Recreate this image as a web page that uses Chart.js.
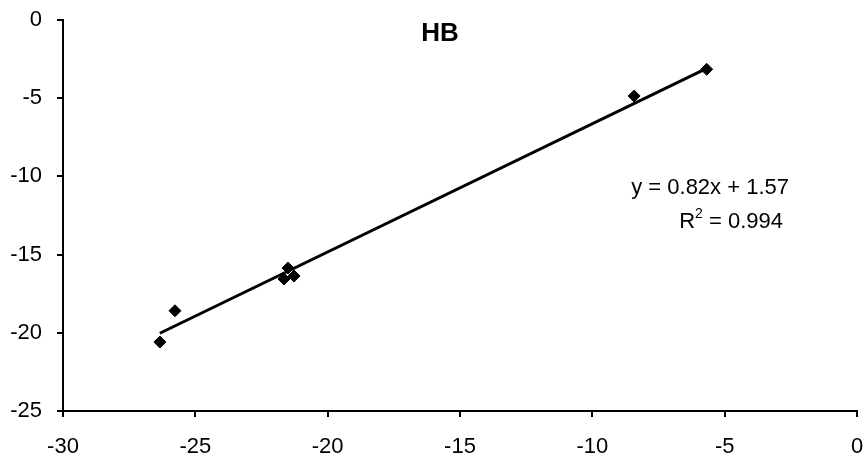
<!DOCTYPE html>
<html>
<head>
<meta charset="utf-8">
<script src="https://cdn.jsdelivr.net/npm/chart.js@4"></script>
<style>
  html, body { margin: 0; padding: 0; background: #fff; }
  #wrap { width: 867px; height: 464px; position: relative; }
</style>
</head>
<body>
<div id="wrap"><canvas id="c" width="867" height="464"></canvas></div>
<script>
// Measured samples
const xValues = [-26.34, -25.77, -21.65, -21.5, -21.27, -8.42, -5.68];
const yValues = [-20.59, -18.59, -16.56, -15.86, -16.37, -4.86, -3.15];

// Linear fit as reported on the chart
const slope = 0.82;
const intercept = 1.57;
const rSquared = 0.994;

const xTicks = [-30, -25, -20, -15, -10, -5, 0];
const yTicks = [-25, -20, -15, -10, -5, 0];

const titleText = 'HB';

const points = xValues.map((x, i) => ({ x: x, y: yValues[i] }));
const xMin = Math.min(...xValues);
const xMax = Math.max(...xValues);
const fitLine = [
  { x: xMin, y: slope * xMin + intercept },
  { x: xMax, y: slope * xMax + intercept }
];

const FONT = '"Liberation Sans", Arial, sans-serif';

const annotate = {
  id: 'annotate',
  afterDraw(chart) {
    const { ctx, chartArea } = chart;
    ctx.save();
    ctx.fillStyle = '#000';
    ctx.textBaseline = 'middle';
    ctx.textAlign = 'center';
    ctx.font = 'bold 26px ' + FONT;
    ctx.fillText(titleText, chartArea.left + 377, chartArea.top + 14);

    ctx.font = '22px ' + FONT;
    ctx.textAlign = 'right';
    const eq = 'y = ' + slope.toFixed(2) + 'x + ' + intercept.toFixed(2);
    ctx.fillText(eq, chartArea.left + 726, chartArea.top + 168);
    // R² line with superscript
    const r2 = ' = ' + rSquared.toFixed(3);
    const rx = chartArea.left + 720;
    const ry = chartArea.top + 202;
    ctx.fillText(r2, rx, ry);
    const w = ctx.measureText(r2).width;
    ctx.font = '14px ' + FONT;
    const sw = ctx.measureText('2').width;
    ctx.fillText('2', rx - w, ry - 8);
    ctx.font = '22px ' + FONT;
    ctx.fillText('R', rx - w - sw, ry);
    ctx.restore();
  }
};

new Chart(document.getElementById('c'), {
  type: 'scatter',
  data: {
    datasets: [
      {
        data: points,
        pointStyle: 'rectRot',
        pointRadius: 6,
        pointBackgroundColor: '#000',
        pointBorderColor: '#000',
        pointBorderWidth: 1,
        showLine: false
      },
      {
        data: fitLine,
        showLine: true,
        borderColor: '#000',
        borderWidth: 3,
        pointRadius: 0
      }
    ]
  },
  options: {
    responsive: false,
    animation: false,
    layout: { padding: { top: 20, right: 10, left: 0, bottom: 0 } },
    plugins: { legend: { display: false }, tooltip: { enabled: false } },
    scales: {
      x: {
        type: 'linear',
        min: -30, max: 0,
        afterBuildTicks: (s) => { s.ticks = xTicks.map(v => ({ value: v })); },
        afterFit: (s) => { s.height = 53; s.paddingLeft = 0; s.paddingRight = 0; },
        grid: { display: true, drawOnChartArea: false, drawTicks: true, tickLength: 6, color: '#000', lineWidth: 2 },
        border: { display: true, color: '#000', width: 2 },
        ticks: { color: '#000', font: { family: FONT, size: 22 }, padding: 17, maxRotation: 0 }
      },
      y: {
        type: 'linear',
        min: -25, max: 0,
        afterBuildTicks: (s) => { s.ticks = yTicks.map(v => ({ value: v })); },
        afterFit: (s) => { s.width = 63; s.paddingTop = 0; s.paddingBottom = 0; },
        grid: { display: true, drawOnChartArea: false, drawTicks: true, tickLength: 6, color: '#000', lineWidth: 2 },
        border: { display: true, color: '#000', width: 2 },
        ticks: { color: '#000', font: { family: FONT, size: 22 }, padding: 15 }
      }
    }
  },
  plugins: [annotate]
});
</script>
</body>
</html>
